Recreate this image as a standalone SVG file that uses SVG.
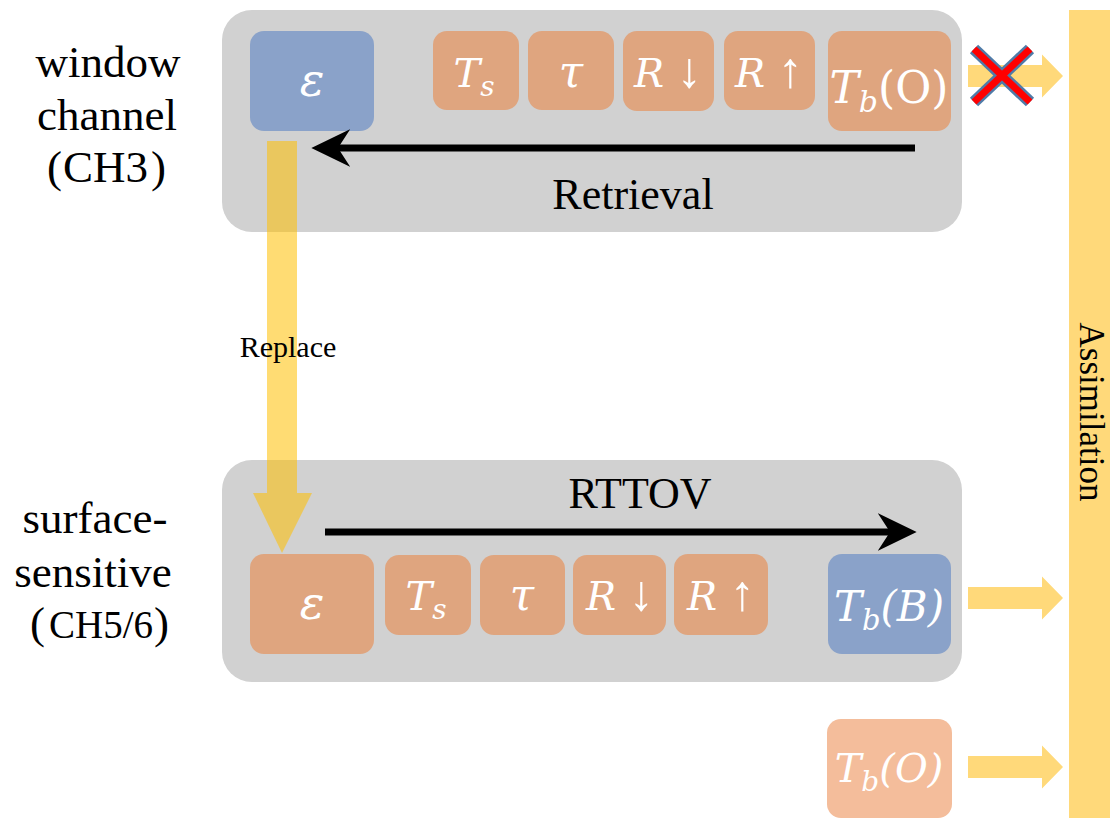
<svg xmlns="http://www.w3.org/2000/svg" width="1112" height="820" viewBox="0 0 1112 820">
<style>
.panel{fill:#D1D1D1}
.or{fill:#DFA57F}
.bl{fill:#8AA2C9}
.lo{fill:#F4BD9B}
.bt{font-family:"DejaVu Serif","Liberation Serif",serif;font-style:italic;fill:#FFFFFF;text-anchor:middle}
.up{font-style:normal}
.ar{font-family:"Liberation Serif",serif;font-style:normal}
.lbl{font-family:"Liberation Serif","Noto Sans CJK SC",serif;font-size:45px;fill:#000;text-anchor:middle}
.st{text-anchor:start}
.cap{font-family:"Liberation Serif",serif;fill:#000;text-anchor:middle}
.blk{stroke:#000;stroke-width:7;fill:none}
.ya{fill:#FFD97A}
</style>
<defs>
<marker id="head" markerUnits="userSpaceOnUse" markerWidth="40" markerHeight="40" refX="20" refY="17" orient="auto" viewBox="0 0 36 34">
<path d="M35,17 L0,0 L11,17 L0,34 Z" fill="#000"/>
</marker>
<path id="yarrow" d="M0,-11 L74,-11 L74,-21.5 L95,0 L74,21.5 L74,11 L0,11 Z"/>
</defs>

<g id="assimilation">
<rect x="1069" y="10" width="41" height="808" class="ya"/>
<text class="cap" x="1080" y="412" transform="rotate(90 1080 412)" font-size="35">Assimilation</text>
</g>

<g id="panel-top">
<rect x="222" y="10" width="740" height="222" rx="30" class="panel"/>
</g>
<g id="panel-bottom">
<rect x="222" y="460" width="740" height="222" rx="30" class="panel"/>
</g>

<g id="labels">
<text class="lbl" x="108" y="77">window</text>
<text class="lbl" x="107" y="130">channel</text>
<text class="lbl st" y="182"><tspan x="47">(</tspan><tspan x="63">CH3</tspan><tspan x="151">)</tspan></text>
<text class="lbl" x="95" y="533">surface-</text>
<text class="lbl" x="93" y="587">sensitive</text>
<text class="lbl st" y="638"><tspan x="30">(</tspan><tspan x="49" font-size="39">CH5/6</tspan><tspan x="154">)</tspan></text>
</g>

<g id="top-eps"><rect x="250" y="31" width="124" height="100" rx="14" class="bl"/><text class="bt" x="312" y="96" font-size="46">ε</text></g>
<g id="top-Ts"><rect x="433" y="31" width="86" height="79" rx="14" class="or"/><text class="bt" x="474" y="87" font-size="40">T<tspan font-size="28" dy="9">s</tspan></text></g>
<g id="top-tau"><rect x="528" y="31" width="86" height="79" rx="14" class="or"/><text class="bt" x="571" y="87" font-size="44">τ</text></g>
<g id="top-Rdown"><rect x="623" y="31" width="91" height="80" rx="14" class="or"/><text class="bt" x="668" y="87" font-size="40">R <tspan class="ar" font-size="50">↓</tspan></text></g>
<g id="top-Rup"><rect x="724" y="31" width="91" height="79" rx="14" class="or"/><text class="bt" x="769" y="87" font-size="40">R <tspan class="ar" font-size="50">↑</tspan></text></g>
<g id="top-TbO"><rect x="828" y="31" width="123" height="100" rx="14" class="or"/><text class="bt" x="889" y="103" font-size="44">T<tspan font-size="30" dy="9">b</tspan><tspan class="up" dy="-9">(O)</tspan></text></g>

<g id="bot-eps"><rect x="250" y="554" width="124" height="100" rx="14" class="or"/><text class="bt" x="312" y="619" font-size="46">ε</text></g>
<g id="bot-Ts"><rect x="385" y="555" width="86" height="80" rx="14" class="or"/><text class="bt" x="426" y="610" font-size="40">T<tspan font-size="28" dy="9">s</tspan></text></g>
<g id="bot-tau"><rect x="480" y="555" width="85" height="80" rx="14" class="or"/><text class="bt" x="522" y="610" font-size="44">τ</text></g>
<g id="bot-Rdown"><rect x="573" y="555" width="93" height="80" rx="14" class="or"/><text class="bt" x="620" y="610" font-size="40">R <tspan class="ar" font-size="50">↓</tspan></text></g>
<g id="bot-Rup"><rect x="674" y="554" width="94" height="81" rx="14" class="or"/><text class="bt" x="721" y="610" font-size="40">R <tspan class="ar" font-size="50">↑</tspan></text></g>
<g id="bot-TbB"><rect x="828" y="554" width="123" height="100" rx="14" class="bl"/><text class="bt" x="889" y="621" font-size="42">T<tspan font-size="29" dy="9">b</tspan><tspan dy="-9">(B)</tspan></text></g>

<g id="obs-TbO"><rect x="827" y="719" width="125" height="99" rx="14" class="lo"/><text class="bt" x="889" y="782" font-size="40">T<tspan font-size="28" dy="9">b</tspan><tspan dy="-9">(O)</tspan></text></g>

<g id="connectors">
<line x1="915" y1="148" x2="328" y2="148" class="blk" marker-end="url(#head)"/>
<text class="cap" x="633" y="209" font-size="44">Retrieval</text>
<line x1="325" y1="532" x2="900" y2="532" class="blk" marker-end="url(#head)"/>
<text class="cap" x="640" y="508" font-size="44">RTTOV</text>
<path d="M267,141 L297,141 L297,493 L312,493 L282,553 L253,493 L267,493 Z" fill="#FFC000" fill-opacity="0.55"/>
<text class="cap" x="288" y="357" font-size="30">Replace</text>
<use href="#yarrow" x="968" y="76" class="ya"/>
<use href="#yarrow" x="968" y="598" class="ya"/>
<use href="#yarrow" x="968" y="767" class="ya"/>
<g id="cross" stroke-linecap="butt">
<line x1="974" y1="49" x2="1030" y2="102" stroke="#4F7BA8" stroke-width="12"/>
<line x1="1030" y1="49" x2="974" y2="102" stroke="#4F7BA8" stroke-width="12"/>
<line x1="974" y1="49" x2="1030" y2="102" stroke="#FF0000" stroke-width="7"/>
<line x1="1030" y1="49" x2="974" y2="102" stroke="#FF0000" stroke-width="7"/>
</g>
</g>
</svg>
